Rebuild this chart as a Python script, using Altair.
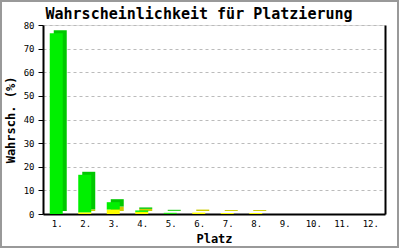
import altair as alt
import pandas as pd

places = ["1.", "2.", "3.", "4.", "5.", "6.", "7.", "8.", "9.", "10.", "11.", "12."]
yellow = [0.0, 0.7, 1.9, 0.9, 0.1, 0.6, 0.4, 0.4, 0.0, 0.0, 0.0, 0.0]
green = [76.5, 15.9, 3.1, 0.6, 0.4, 0.0, 0.0, 0.0, 0.0, 0.0, 0.0, 0.0]
series_names = ["gelb", "grün"]

rows = []
for i, p in enumerate(places):
    rows.append({"place": p, "series": series_names[0], "ord": 0, "value": yellow[i]})
    rows.append({"place": p, "series": series_names[1], "ord": 1, "value": green[i]})
df = pd.DataFrame(rows)

FONT = "DejaVu Sans Mono"

xaxis = alt.Axis(title="Platz", labelAngle=0, ticks=False, domainColor="black",
                 domainWidth=2, labelFont=FONT, labelFontSize=9, labelColor="black",
                 labelPadding=5, titleFont=FONT, titleFontSize=12,
                 titleFontWeight="bold", titleColor="black", titlePadding=5)
xscale = alt.Scale(paddingInner=0, paddingOuter=0)
yscale = alt.Scale(domain=[0, 80])

back = alt.Chart(df).mark_bar(width=13, xOffset=3, x2Offset=3, yOffset=-3, y2Offset=-3).encode(
    x=alt.X("place:N", sort=places, scale=xscale, axis=xaxis),
    y=alt.Y("value:Q", stack="zero", scale=yscale,
            axis=alt.Axis(orient="right", labels=False, ticks=False, grid=False,
                          domainColor="black", domainWidth=2, title=None)),
    color=alt.Color("series:N", scale=alt.Scale(domain=series_names, range=["#cccc00", "#00c800"]),
                    legend=None),
    order=alt.Order("ord:Q"),
)

front = alt.Chart(df).mark_bar(width=13, xOffset=-1, x2Offset=-1).encode(
    x=alt.X("place:N", sort=places, scale=xscale, axis=xaxis),
    y=alt.Y("value:Q", stack="zero", scale=yscale,
            axis=alt.Axis(title="Wahrsch. (%)", values=list(range(0, 81, 10)), grid=True,
                          gridColor="#bbbbbb", gridDash=[3, 3], domainColor="black",
                          domainWidth=2, tickColor="black", tickSize=5, labelFont=FONT,
                          labelFontSize=9, labelColor="black", labelPadding=4,
                          titleFont=FONT, titleFontSize=12, titleFontWeight="bold",
                          titleColor="black", titlePadding=6)),
    color=alt.Color("series:N", scale=alt.Scale(domain=series_names, range=["#ffff00", "#00f000"]),
                    legend=None),
    order=alt.Order("ord:Q"),
)

frame = alt.Chart(alt.Data(values=[{}])).mark_rect(
    filled=False, stroke="#999999", strokeWidth=2, clip=False
).encode(x=alt.value(-42), x2=alt.value(355), y=alt.value(-24), y2=alt.value(222))

chart = alt.layer(back, front, frame).resolve_scale(color="independent").resolve_axis(
    y="independent"
).properties(
    width=342, height=189,
    padding={"left": 43, "top": 25, "right": 15, "bottom": 36},
    autosize=alt.AutoSizeParams(type="none"),
    title=alt.TitleParams("Wahrscheinlichkeit für Platzierung", font=FONT, fontSize=15,
                          fontWeight="bold", color="black", anchor="middle", dx=-15,
                          offset=0, baseline="bottom", dy=37),
).configure_view(stroke=None).configure(background="white")

chart.save("out.html", embed_options={"renderer": "svg", "actions": False})
